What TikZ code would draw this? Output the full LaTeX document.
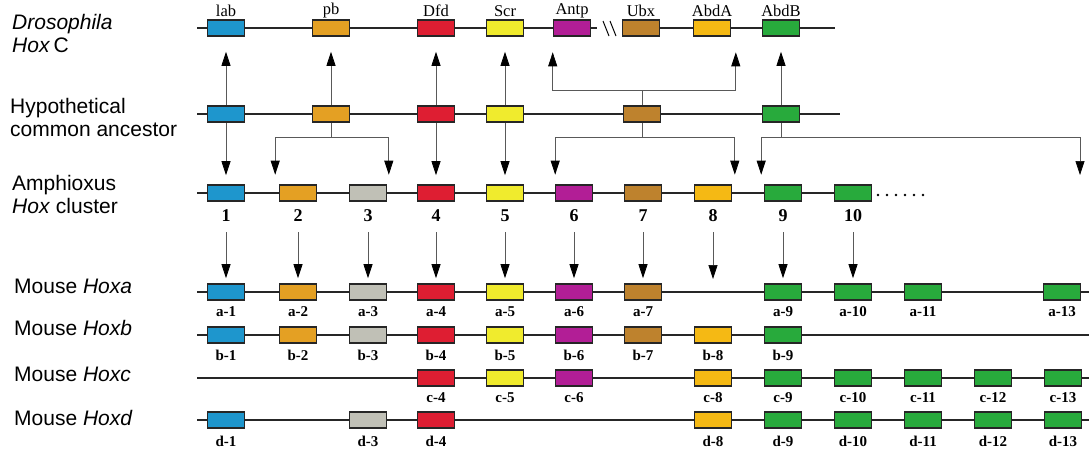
\documentclass[tikz,border=0pt]{standalone}
\usepackage{fontspec}
\setmainfont{Liberation Serif}
\setsansfont{Liberation Sans}
\usetikzlibrary{arrows.meta, positioning}

\definecolor{hxblue}{RGB}{30,150,205}
\definecolor{hxorange}{RGB}{228,160,35}
\definecolor{hxred}{RGB}{222,30,50}
\definecolor{hxyellow}{RGB}{240,235,45}
\definecolor{hxmagenta}{RGB}{178,30,150}
\definecolor{hxbrown}{RGB}{190,130,45}
\definecolor{hxamber}{RGB}{245,185,20}
\definecolor{hxgreen}{RGB}{40,170,60}
\definecolor{hxgray}{RGB}{192,192,182}

\begin{document}
\begin{tikzpicture}[x=1pt, y=-1pt,
        gene/.style={rectangle, draw=black!85, line width=1.6pt, minimum width=37pt,
                     minimum height=16pt, inner sep=0pt},
        dna/.style={line width=1.5pt, black!85},
        arr/.style={-{Triangle[length=14pt,width=9pt,color=black]}, gray!70!black, line width=0.7pt},
        rowlab/.style={font=\fontsize{21}{23}\selectfont\sffamily, align=left, anchor=west, inner sep=0pt},
        gname/.style={font=\fontsize{16.5}{16.5}\selectfont, inner sep=0pt},
        num/.style={font=\fontsize{18}{18}\selectfont\bfseries, inner sep=0pt},
        tag/.style={font=\fontsize{15}{15}\selectfont\bfseries, inner sep=0pt}]
      \useasboundingbox (0,0) rectangle (1089,455);

      % row labels
      \node[rowlab] (lfly) at (12,33) {\textit{Drosophila}\\\textit{Hox}\,C};
      \node[rowlab] (lanc) at (10,117) {Hypothetical\\common ancestor};
      \node[rowlab] (lamph) at (12,194) {Amphioxus\\\textit{Hox} cluster};
      \node[rowlab] (la) at (14,286) {Mouse \textit{Hoxa}};
      \node[rowlab] (lb) at (14,328) {Mouse \textit{Hoxb}};
      \node[rowlab] (lc) at (14,374) {Mouse \textit{Hoxc}};
      \node[rowlab] (ld) at (14,418) {Mouse \textit{Hoxd}};

      % Drosophila HOM-C
      \draw[dna] (197,28) -- (597,28);
      \draw[dna] (622,28) -- (835,28);
      \draw[line width=1pt] (603,21) -- (609,36) (610,21) -- (616,36);
      \foreach \n/\x/\c in {lab/226/hxblue, pb/331/hxorange, Dfd/436/hxred, Scr/505/hxyellow,
                            Antp/572/hxmagenta, Ubx/641/hxbrown, AbdA/712/hxamber, AbdB/781/hxgreen}{
        \node[gene, fill=\c] (d\n) at (\x,28) {};
        \node[gname] (t\n) at (\x,11) {\n};
      }

      % ancestor
      \draw[dna] (197,114) -- (840,114);
      \foreach \n/\x/\c in {lab/226/hxblue, pb/331/hxorange, Dfd/436/hxred, Scr/505/hxyellow,
                            Ubx/642/hxbrown, AbdB/781/hxgreen}
        \node[gene, fill=\c] (h\n) at (\x,114) {};

      % amphioxus
      \draw[dna] (197,193) -- (872,193);
      \foreach \k in {0,...,5}
        \fill (878+\k*9,195) circle (1.3);
      \foreach \i/\x/\c in {1/226/hxblue, 2/298/hxorange, 3/368/hxgray, 4/436/hxred, 5/505/hxyellow,
                            6/574/hxmagenta, 7/643/hxbrown, 8/713/hxamber, 9/783/hxgreen, 10/853/hxgreen}{
        \node[gene, fill=\c] (x\i) at (\x,193) {};
        \node[num] (n\i) at (\x,216) {\i};
      }

      % mouse clusters
      \foreach \y in {292,335,378,420}
        \draw[dna] (197,\y) -- (1089,\y);
      \foreach \i/\x/\c in {1/226/hxblue, 2/298/hxorange, 3/368/hxgray, 4/436/hxred, 5/505/hxyellow,
                            6/574/hxmagenta, 7/643/hxbrown, 9/783/hxgreen, 10/853/hxgreen,
                            11/923/hxgreen, 13/1062/hxgreen}{
        \node[gene, fill=\c] (a\i) at (\x,292) {};
        \node[tag] (ta\i) at (\x,312) {a-\i};
      }
      \coordinate (a8) at (713,284);
      \foreach \i/\x/\c in {1/226/hxblue, 2/298/hxorange, 3/368/hxgray, 4/436/hxred, 5/505/hxyellow,
                            6/574/hxmagenta, 7/643/hxbrown, 8/713/hxamber, 9/783/hxgreen}{
        \node[gene, fill=\c] (b\i) at (\x,335) {};
        \node[tag] (tb\i) at (\x,355) {b-\i};
      }
      \foreach \i/\x/\c in {4/436/hxred, 5/505/hxyellow, 6/574/hxmagenta, 8/713/hxamber, 9/783/hxgreen,
                            10/853/hxgreen, 11/923/hxgreen, 12/993/hxgreen, 13/1063/hxgreen}{
        \node[gene, fill=\c] (c\i) at (\x,378) {};
        \node[tag] (tc\i) at (\x,398) {c-\i};
      }
      \foreach \i/\x/\c in {1/226/hxblue, 3/368/hxgray, 4/436/hxred, 8/713/hxamber, 9/783/hxgreen,
                            10/853/hxgreen, 11/923/hxgreen, 12/993/hxgreen, 13/1063/hxgreen}{
        \node[gene, fill=\c] (dd\i) at (\x,420) {};
        \node[tag] (td\i) at (\x,441) {d-\i};
      }

      % ancestor -> Drosophila
      \foreach \n in {lab, pb, Dfd, Scr, AbdB}
        \draw[arr, shorten >=15pt] (h\n) -- (d\n);
      \draw[arr] (hUbx) -- ++(0,-23.5) -| ([yshift=-15.5pt]dAntp.south west);
      \draw[arr] (hUbx) -- ++(0,-23.5) -| ([xshift=4.5pt,yshift=-15.5pt]dAbdA.south east);

      % ancestor -> amphioxus
      \draw[arr, shorten >=9pt] (hlab) -- (x1);
      \draw[arr, shorten >=9pt] (hDfd) -- (x4);
      \draw[arr, shorten >=9pt] (hScr) -- (x5);
      \draw[arr] (hpb) -- ++(0,23) -| ([xshift=-3.5pt,yshift=9.5pt]x2.north west);
      \draw[arr] (hpb) -- ++(0,23) -| ([xshift=1.5pt,yshift=9.5pt]x3.north east);
      \draw[arr] (hUbx) -- ++(0,23) -| ([xshift=0.5pt,yshift=9.5pt]x6.north west);
      \draw[arr] (hUbx) -- ++(0,23) -| ([xshift=2.5pt,yshift=9.5pt]x8.north east);
      \coordinate (xfar) at (1080,175);
      \draw[arr] (hAbdB) -- ++(0,23) -| ([xshift=-2.5pt,yshift=9.5pt]x9.north west);
      \draw[arr] (hAbdB) -- ++(0,23) -| (xfar);

      % amphioxus -> mouse Hoxa
      \foreach \i in {1,...,10}
        \draw[arr, shorten <=10pt, shorten >=5pt] (n\i) -- (a\i);
    \end{tikzpicture}
\end{document}
